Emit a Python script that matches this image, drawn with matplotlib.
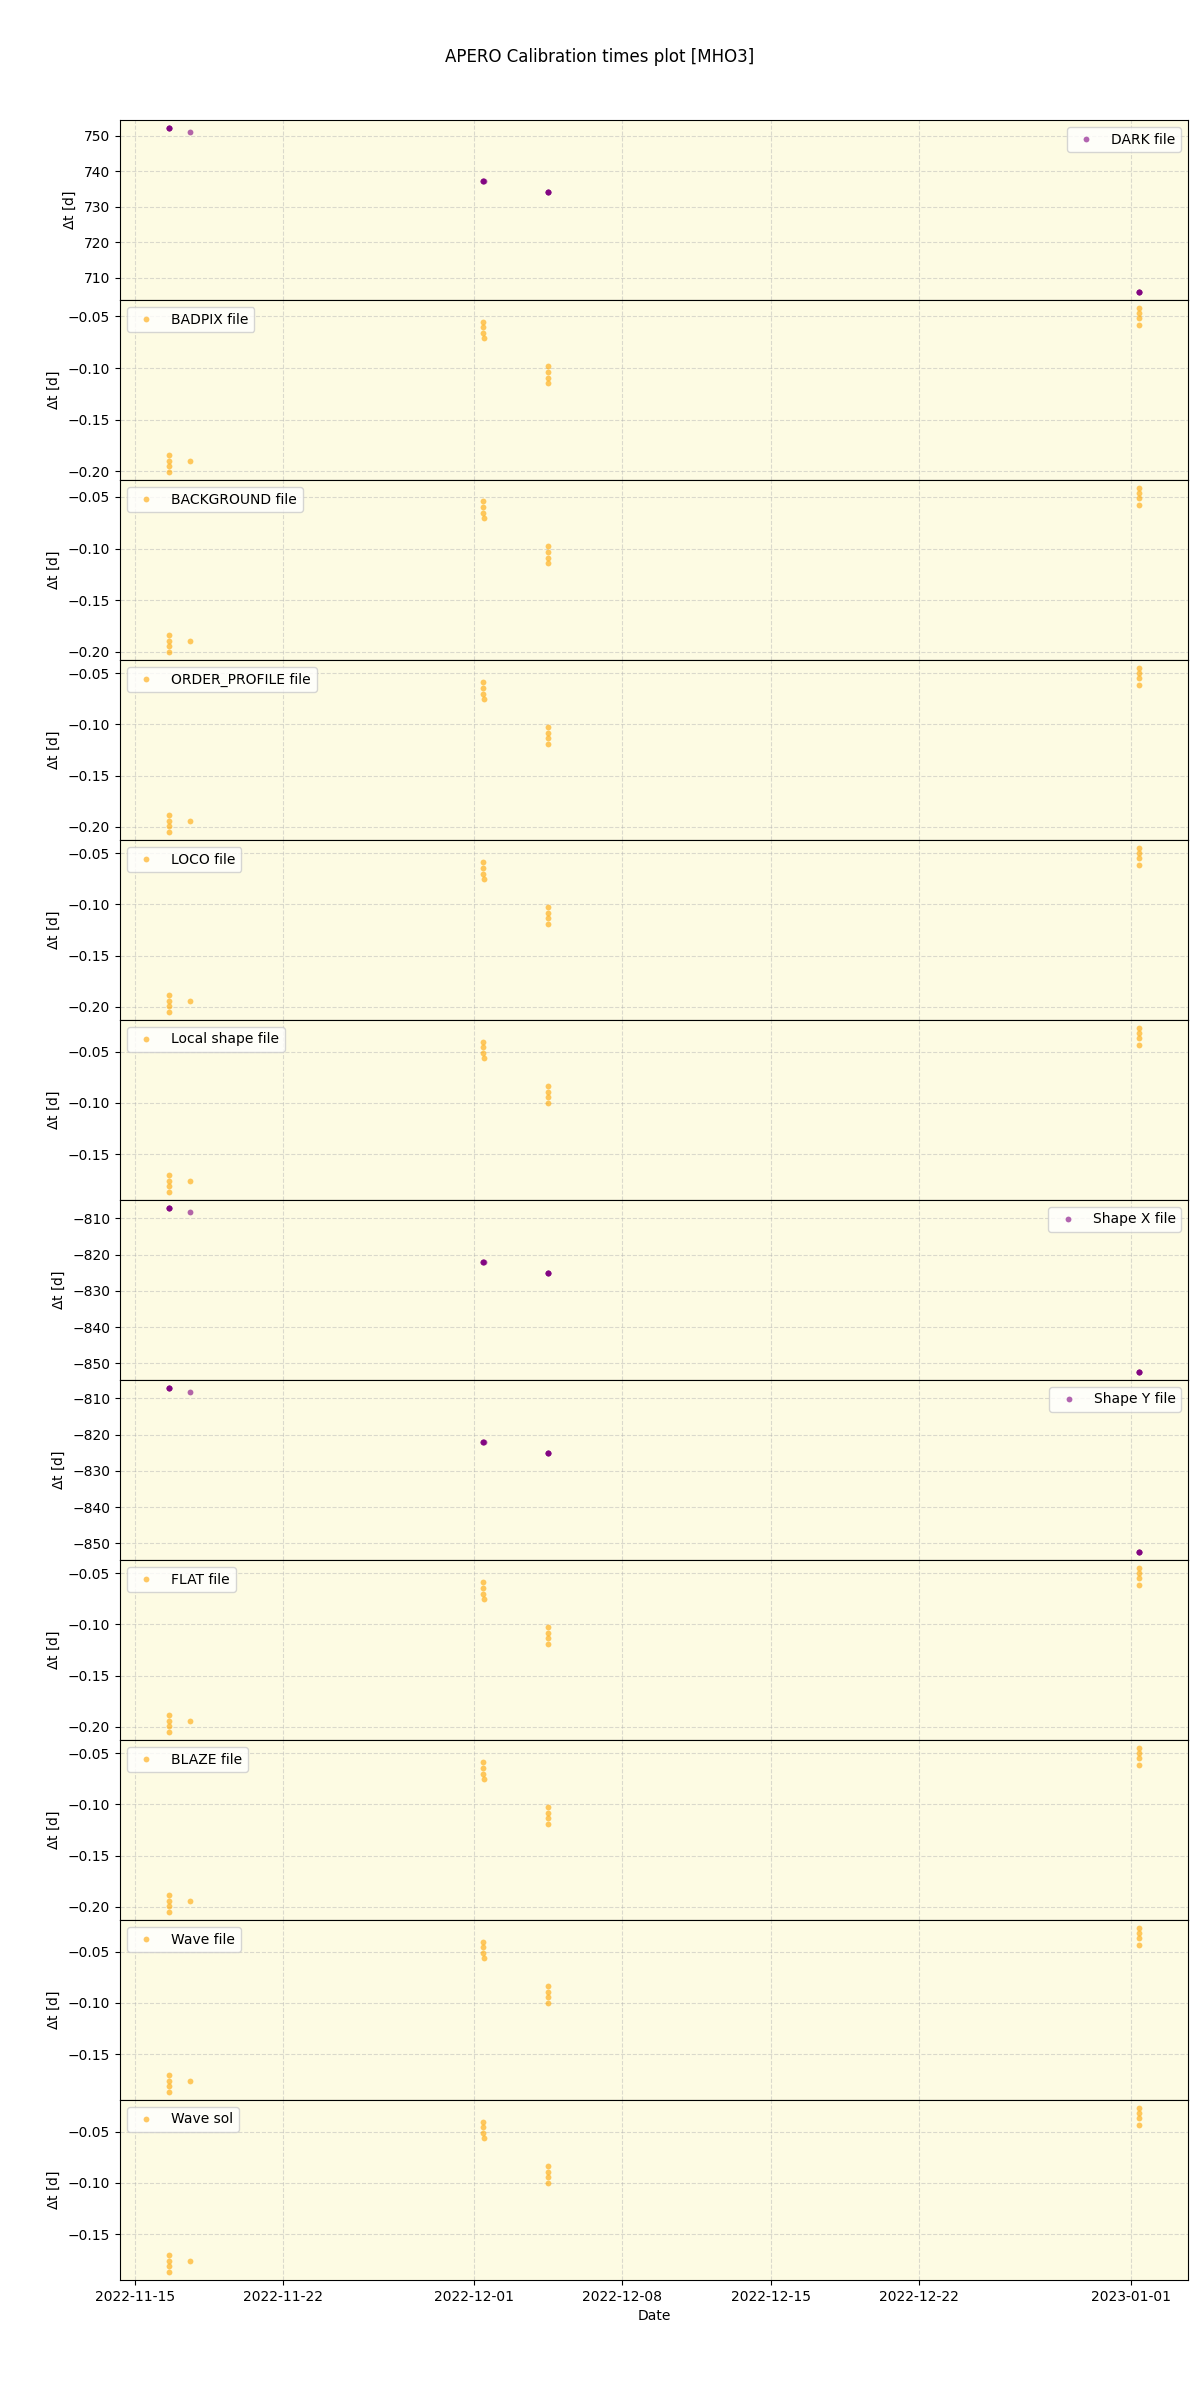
import numpy as np
import pandas as pd
import matplotlib
matplotlib.use('Agg')
import matplotlib.pyplot as plt
import matplotlib.dates as mdates

# observation times (one entry per science frame)
obs_times = ['2022-11-16 14:05', '2022-11-16 14:13', '2022-11-16 14:21', '2022-11-16 14:29',
             '2022-11-17 13:55',
             '2022-12-01 09:55', '2022-12-01 10:03', '2022-12-01 10:40', '2022-12-01 10:48',
             '2022-12-04 11:40', '2022-12-04 11:48', '2022-12-04 11:56', '2022-12-04 12:04',
             '2023-01-01 09:15', '2023-01-01 09:23', '2023-01-01 09:31', '2023-01-01 09:39']

# delta t [days] between calibration file and observation
dt_dark = [752.15, 752.14, 752.14, 752.13, 751.03,
           737.28, 737.27, 737.25, 737.24, 734.19, 734.18, 734.18, 734.17,
           706.12, 706.11, 706.11, 706.10]
dt_badpix = [-0.1841, -0.1898, -0.1951, -0.2004, -0.1898,
             -0.0549, -0.0606, -0.0659, -0.0712, -0.0982, -0.1040, -0.1093, -0.1146,
             -0.0420, -0.0469, -0.0519, -0.0580]
dt_background = [-0.1836, -0.1894, -0.1947, -0.2000, -0.1894,
                 -0.0544, -0.0602, -0.0655, -0.0708, -0.0978, -0.1035, -0.1088, -0.1141,
                 -0.0416, -0.0465, -0.0515, -0.0576]
dt_order = [-0.1884, -0.1942, -0.1996, -0.2049, -0.1942,
            -0.0589, -0.0645, -0.0698, -0.0747, -0.1029, -0.1083, -0.1136, -0.1190,
            -0.0450, -0.0500, -0.0550, -0.0612]
dt_local = [-0.1700, -0.1757, -0.1810, -0.1867, -0.1757,
            -0.0403, -0.0460, -0.0513, -0.0560, -0.0837, -0.0893, -0.0943, -0.1000,
            -0.0272, -0.0322, -0.0371, -0.0432]
dt_shape = [-807.21, -807.22, -807.22, -807.23, -808.27,
            -822.02, -822.03, -822.05, -822.06, -825.10, -825.11, -825.11, -825.12,
            -852.30, -852.31, -852.31, -852.32]

labels = ['DARK file', 'BADPIX file', 'BACKGROUND file', 'ORDER_PROFILE file', 'LOCO file',
          'Local shape file', 'Shape X file', 'Shape Y file', 'FLAT file', 'BLAZE file',
          'Wave file', 'Wave sol']
series = [dt_dark, dt_badpix, dt_background, dt_order, dt_order, dt_local,
          dt_shape, dt_shape, dt_order, dt_order, dt_local, dt_local]
colors = ['purple', 'orange', 'orange', 'orange', 'orange', 'orange',
          'purple', 'purple', 'orange', 'orange', 'orange', 'orange']
legend_loc = ['upper right', 'upper left', 'upper left', 'upper left', 'upper left', 'upper left',
              'upper right', 'upper right', 'upper left', 'upper left', 'upper left', 'upper left']

dates = pd.to_datetime(obs_times)

fig, axes = plt.subplots(len(labels), 1, sharex=True, figsize=(12, 24))
fig.subplots_adjust(left=0.1, right=0.99, top=0.95, bottom=0.05, hspace=0)
fig.suptitle('APERO Calibration times plot [MHO3]')

for ax, lab, dt, col, loc in zip(axes, labels, series, colors, legend_loc):
    ax.set_facecolor('#fdfbe3')
    ax.plot(dates, dt, 'o', color=col, ms=4.2, alpha=0.6, label=lab, mec='none')
    ax.grid(True, linestyle='--', color='#b0b0b0', alpha=0.45)
    ax.set_ylabel(r'$\Delta$t [d]')
    ax.legend(loc=loc)

axes[-1].xaxis.set_major_locator(mdates.DayLocator(bymonthday=[1, 8, 15, 22]))
axes[-1].xaxis.set_major_formatter(mdates.DateFormatter('%Y-%m-%d'))
axes[-1].set_xlabel('Date')

fig.savefig('out.png', dpi=100)
